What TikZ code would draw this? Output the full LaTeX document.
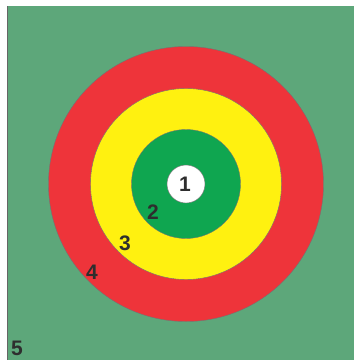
\documentclass[tikz,border=0pt]{standalone}
\usepackage{fontspec}
\setmainfont{Liberation Sans}
\definecolor{bggreen}{HTML}{5DA77A}
\definecolor{ringred}{HTML}{EE343A}
\definecolor{ringyellow}{HTML}{FFF110}
\definecolor{ringgreen}{HTML}{0FA650}
\definecolor{labelgray}{HTML}{2E2E2E}
\begin{document}
\begin{tikzpicture}[x=1pt,y=-1pt,
  ring/.style={draw=black!55,line width=0.4pt},
  lbl/.style={text=labelgray,font=\fontsize{21}{21}\selectfont\bfseries,inner sep=0pt}]
\useasboundingbox (0,0) rectangle (354,360);
\fill[white] (0,0) rectangle (354,360);
\fill[bggreen] (7,6) rectangle (354,360);
\draw[black!60,line width=0.8pt] (7,6) -- (7,360);
\coordinate (c) at (186,184);
\path[ring,fill=ringred] (c) circle[radius=137.5];
\path[ring,fill=ringyellow] (c) circle[radius=95.5];
\path[ring,fill=ringgreen] (c) circle[radius=54.5];
\path[ring,fill=white] (c) circle[radius=19];
\node[lbl] (l1) at (185,184) {1};
\node[lbl] (l2) at (153,212) {2};
\node[lbl] (l3) at (125,243) {3};
\node[lbl] (l4) at (92,272) {4};
\node[lbl] (l5) at (17,348) {5};
\end{tikzpicture}
\end{document}
